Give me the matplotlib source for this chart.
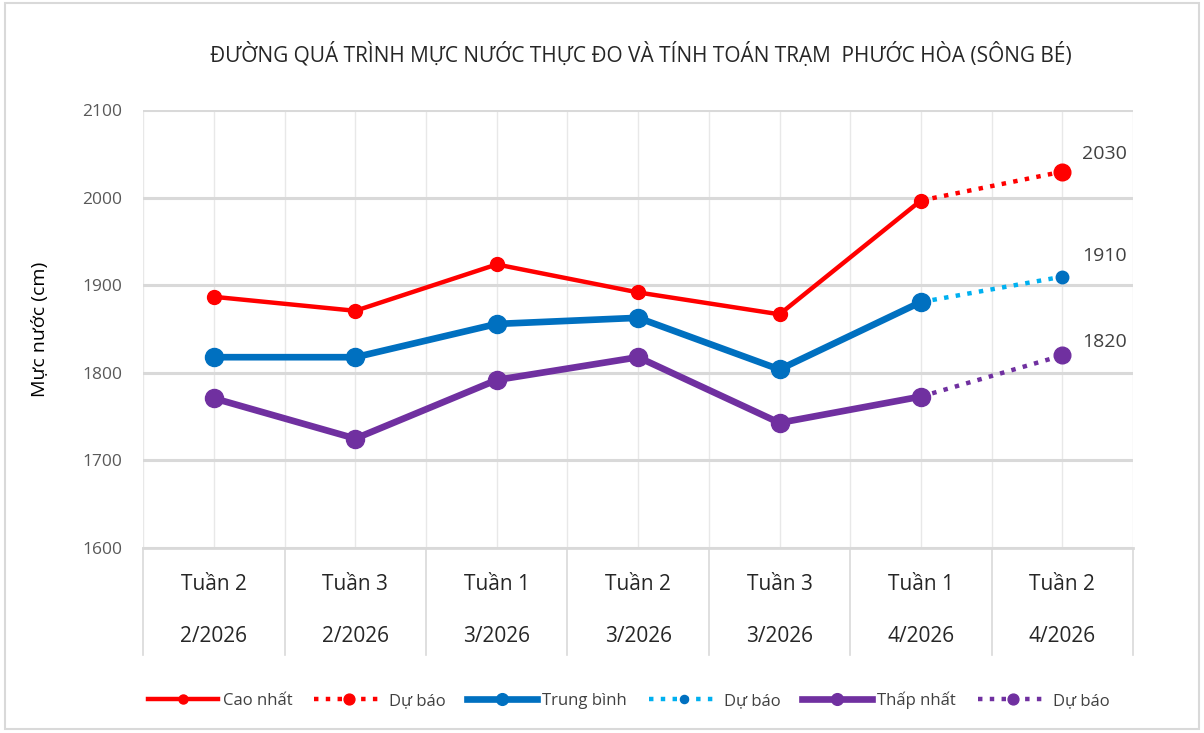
import matplotlib.pyplot as plt
import matplotlib.transforms as mtransforms
from matplotlib.patches import Rectangle
from matplotlib.ticker import MultipleLocator

plt.rcParams["font.family"] = ["Open Sans", "DejaVu Sans"]

# Data
weeks = ["Tuần 2", "Tuần 3", "Tuần 1", "Tuần 2", "Tuần 3", "Tuần 1", "Tuần 2"]
months = ["2/2026", "2/2026", "3/2026", "3/2026", "3/2026", "4/2026", "4/2026"]
cao_nhat = [1887, 1871, 1924, 1892, 1867, 1997]
trung_binh = [1818, 1818, 1856, 1863, 1804, 1881]
thap_nhat = [1771, 1725, 1792, 1818, 1743, 1773]
du_bao_cao = [1997, 2030]
du_bao_tb = [1881, 1910]
du_bao_thap = [1773, 1820]

x_obs = list(range(len(cao_nhat)))
x_fc = [len(cao_nhat) - 1, len(cao_nhat)]

fig = plt.figure(figsize=(12.04, 7.33), dpi=100)
ax = fig.add_axes([0.119, 0.2524, 0.822, 0.597])

# Lines
ax.plot(x_obs, cao_nhat, "-o", color="#ff0000", lw=3.2, ms=10, label="Cao nhất", zorder=5)
ax.plot(x_fc, du_bao_cao, ":o", color="#ff0000", lw=3.2, ms=12, markevery=[1], label="Dự báo", zorder=4)
ax.plot(x_obs, trung_binh, "-o", color="#0070c0", lw=4.8, ms=13, label="Trung bình", zorder=5)
ax.plot(x_fc, du_bao_tb, ":o", color="#00b0f0", lw=3.2, ms=9, mfc="#0070c0", mec="#0070c0",
        markevery=[1], label="Dự báo", zorder=4)
ax.plot(x_obs, thap_nhat, "-o", color="#7030a0", lw=4.8, ms=13, label="Thấp nhất", zorder=5)
ax.plot(x_fc, du_bao_thap, ":o", color="#7030a0", lw=3.2, ms=12, markevery=[1], label="Dự báo", zorder=4)

# Data labels on forecast end points
for vals, dy in [(du_bao_cao, 13), (du_bao_tb, 15), (du_bao_thap, 10)]:
    ax.annotate(f"{vals[-1]}", (x_fc[-1], vals[-1]), xytext=(14, dy), textcoords="offset points",
                fontsize=14, color="#404040", ha="left", va="center")

# Axes
ax.set_xlim(-0.5, 6.5)
ax.set_ylim(1600, 2100)
ax.yaxis.set_major_locator(MultipleLocator(100))
ax.set_xticks([])
ax.xaxis.set_minor_locator(MultipleLocator(0.5))
ax.grid(axis="y", color="#d9d9d9", lw=2.2)
ax.grid(axis="x", which="minor", color="#e8e8e8", lw=1)
ax.set_axisbelow(True)
for s in ["top", "right", "left"]:
    ax.spines[s].set_visible(False)
ax.spines["bottom"].set_color("#d9d9d9")
ax.spines["bottom"].set_linewidth(2)
ax.tick_params(axis="y", length=0, labelsize=12.5, labelcolor="#595959", pad=15)
ax.tick_params(axis="x", which="both", length=0)
ax.set_ylabel("Mực nước (cm)", fontsize=14, labelpad=24, color="#000000", fontweight="medium")

# Multi-level category labels
trans = mtransforms.blended_transform_factory(ax.transData, fig.transFigure)
for i, (w, m) in enumerate(zip(weeks, months)):
    ax.text(i, 1 - 585 / 733, w, transform=trans, ha="center", va="center", fontsize=15, color="#262626")
    ax.text(i, 1 - 636 / 733, m, transform=trans, ha="center", va="center", fontsize=15, color="#262626")
for b in [i - 0.5 for i in range(len(weeks) + 1)]:
    ax.plot([b, b], [1 - 548 / 733, 1 - 655 / 733], transform=trans, color="#d9d9d9", lw=1.2, clip_on=False)

fig.text(0.532, 1 - 55 / 733, "ĐƯỜNG QUÁ TRÌNH MỰC NƯỚC THỰC ĐO VÀ TÍNH TOÁN TRẠM  PHƯỚC HÒA (SÔNG BÉ)",
         ha="center", va="center", fontsize=15, color="#262626")

ax.legend(loc="center", bbox_to_anchor=(0.522, 1 - 700 / 733), bbox_transform=fig.transFigure,
          ncol=6, frameon=False, fontsize=12, handlelength=4.2, columnspacing=1.3, handletextpad=0.3,
          labelcolor="#404040", markerscale=0.65)

fig.patches.append(Rectangle((0.004, 0.006), 0.992, 0.99, transform=fig.transFigure,
                             fill=False, edgecolor="#d9d9d9", lw=1.5))

fig.savefig("out.png", dpi=100)
